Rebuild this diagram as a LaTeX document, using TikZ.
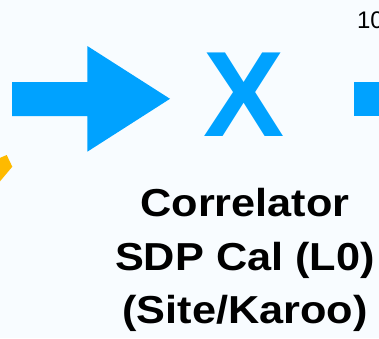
\documentclass[tikz,border=0pt]{standalone}
\usepackage{fontspec}
\setmainfont{Liberation Sans}
\definecolor{keyblue}{RGB}{0,162,255}
\definecolor{keyorange}{RGB}{254,186,0}
\definecolor{paper}{RGB}{248,252,255}
\tikzset{
  flow/.style={fill=keyblue},
  multsign/.style={inner sep=0pt, text=keyblue, font=\bfseries\fontsize{121.5}{121.5}\selectfont},
  stagelabel/.style={inner sep=0pt, align=center, xscale=1.11, transform shape,
    font=\bfseries\fontsize{39}{53.5}\selectfont},
  pagenum/.style={inner sep=0pt, font=\fontsize{24}{24}\selectfont}
}
\begin{document}
\begin{tikzpicture}[x=1pt,y=-1pt]
\useasboundingbox (0,0) rectangle (379,338);
\clip (0,0) rectangle (379,338);
\fill[paper] (0,0) rectangle (379,338);

% incoming block arrow
\fill[flow] (12,82) -- (87.3,82) -- (87.3,46) -- (170,98.8)
  -- (87.3,151.7) -- (87.3,116) -- (12,116) -- cycle;

% start of the outgoing shaft
\fill[flow] (354,82) rectangle (380,116);

% tip of the orange arrow
\fill[keyorange] (-1,158.3) -- (6.7,155) -- (12.3,166.7) -- (-1,182.5) -- cycle;

% multiplication stage
\node[multsign, anchor=base] (mult) at (244.5,136) {X};

% stage caption
\node[stagelabel, anchor=north] (caption) at (245,188.5)
  {Correlator\\SDP Cal (L0)\\(Site/Karoo)};

% slide number
\node[pagenum, anchor=base west] (num) at (356.8,28) {10};
\end{tikzpicture}
\end{document}
